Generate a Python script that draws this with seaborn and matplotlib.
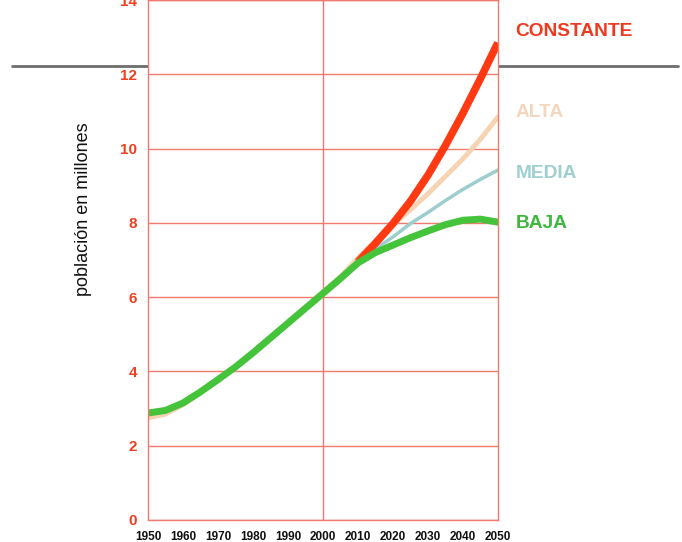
import pandas as pd
import matplotlib.pyplot as plt
import seaborn as sns
from matplotlib.lines import Line2D

# proyecciones de poblacion mundial (miles de millones)
years_base = [1950, 1955, 1960, 1965, 1970, 1975, 1980, 1985, 1990, 1995, 2000,
              2005, 2010, 2015, 2020, 2025, 2030, 2035, 2040, 2045, 2050]
baja = [2.88, 2.95, 3.15, 3.45, 3.78, 4.12, 4.5, 4.9, 5.3, 5.7, 6.1,
        6.5, 6.92, 7.2, 7.4, 7.6, 7.78, 7.95, 8.07, 8.1, 8.02]
alta = [2.75, 2.85, 3.1, 3.42, 3.76, 4.1, 4.5, 4.9, 5.3, 5.7, 6.12,
        6.55, 7.05, 7.5, 7.95, 8.35, 8.78, 9.25, 9.72, 10.25, 10.85]

years_proj = [2010, 2015, 2020, 2025, 2030, 2035, 2040, 2045, 2050]
media = [6.98, 7.3, 7.62, 7.98, 8.28, 8.6, 8.9, 9.17, 9.42]
constante = [6.95, 7.45, 7.98, 8.58, 9.28, 10.08, 10.95, 11.88, 12.85]

xticks = list(range(1950, 2051, 10))
yticks = list(range(0, 15, 2))

grid_red = '#f07a6e'

sns.set_style('white')
plt.rcParams['font.family'] = ['Liberation Sans', 'DejaVu Sans']

fig = plt.figure(figsize=(6.82, 5.42), dpi=100)
# linea gris de fondo
fig.add_artist(Line2D([0.018, 0.994], [0.878, 0.878], color='#6e6e6e', lw=2, zorder=-1))
ax = fig.add_axes([0.217, 0.0406, 0.513, 0.9594])

df_alta = pd.DataFrame({'year': years_base, 'pob': alta})
df_baja = pd.DataFrame({'year': years_base, 'pob': baja})
df_media = pd.DataFrame({'year': years_proj, 'pob': media})
df_const = pd.DataFrame({'year': years_proj, 'pob': constante})

sns.lineplot(data=df_alta, x='year', y='pob', color='#f6d3b3', lw=3.5, ax=ax, solid_capstyle='round')
sns.lineplot(data=df_media, x='year', y='pob', color='#9dcdcd', lw=2.5, ax=ax, solid_capstyle='round')
sns.lineplot(data=df_const, x='year', y='pob', color='#ff3a12', lw=5.5, ax=ax,
             solid_capstyle='butt', solid_joinstyle='round')
sns.lineplot(data=df_baja, x='year', y='pob', color='#45c43b', lw=5, ax=ax,
             solid_capstyle='round', solid_joinstyle='round')

ax.set_xlim(1950, 2050)
ax.set_ylim(0, 14)
ax.set_xticks(xticks)
ax.set_yticks(yticks)
ax.set_xticklabels([str(y) for y in xticks], fontsize=8.5, fontweight='bold', color='#111111')
ax.set_yticklabels([str(y) for y in yticks], fontsize=11, fontweight='bold', color='#f0401e')
ax.tick_params(axis='both', length=0)
ax.tick_params(axis='x', pad=8)
ax.tick_params(axis='y', pad=8)

ax.yaxis.grid(True, color=grid_red, lw=1)
ax.axvline(2000, color=grid_red, lw=1, zorder=1)
for s in ax.spines.values():
    s.set_color(grid_red)
    s.set_linewidth(1)

ax.set_xlabel('')
ax.set_ylabel('población en millones', fontsize=13, color='#111111')
ax.yaxis.set_label_coords(-0.16, 0.598)

# etiquetas de las variantes
labels = ['CONSTANTE', 'ALTA', 'MEDIA', 'BAJA']
label_y = [13.16, 10.98, 9.33, 7.99]
label_colors = ['#ee3a1e', '#f3d6bd', '#9fcfd0', '#3cb83c']
for txt, yv, c in zip(labels, label_y, label_colors):
    ax.text(2055.1, yv, txt, color=c, fontsize=13.8, fontweight='bold',
            va='center', ha='left', clip_on=False)

fig.savefig('out.png', dpi=100)
